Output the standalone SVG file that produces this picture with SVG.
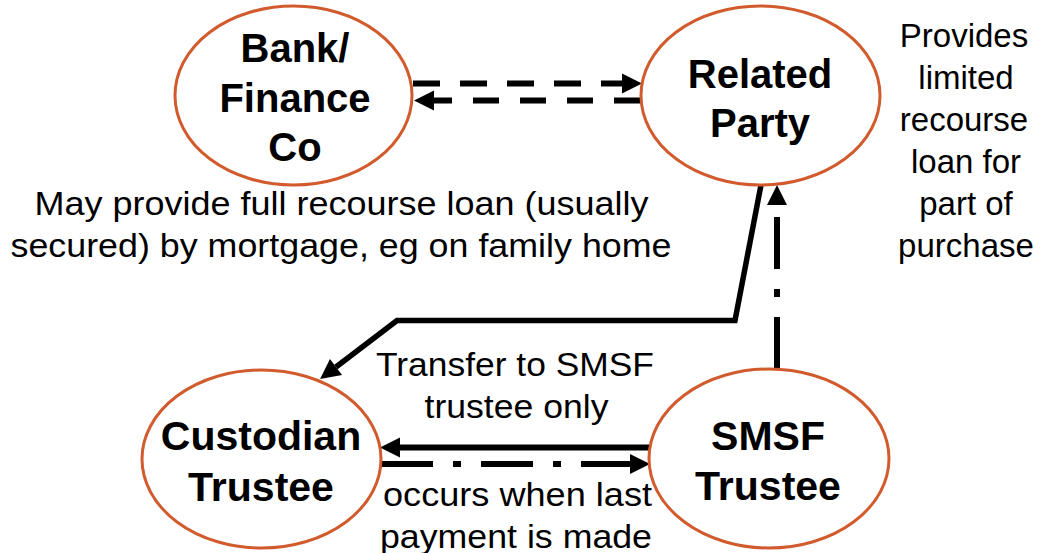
<svg xmlns="http://www.w3.org/2000/svg" width="1046" height="553" viewBox="0 0 1046 553">
<style>
  .node ellipse { fill: #ffffff; stroke: #D25B2E; stroke-width: 3; }
  .title { font-family: "Liberation Sans", Arial, sans-serif; font-weight: bold; fill: #000; text-anchor: middle; }
  .t40 { font-size: 40px; }
  .t41 { font-size: 41px; }
  .lbl { font-family: "Liberation Sans", Arial, sans-serif; font-size: 33px; fill: #000; }
  .mid { text-anchor: middle; }
  .conn { fill: none; stroke: #000; stroke-width: 6; }
  .dash { stroke-dasharray: 27 20; }
  .dashdot { stroke-dasharray: 52 20 8 20; }
</style>
<defs>
  <marker id="arrow" markerUnits="userSpaceOnUse" markerWidth="21" markerHeight="20" refX="0" refY="10" orient="auto" overflow="visible">
    <path d="M0,0 L20,10 L0,20 Z" fill="#000"/>
  </marker>
</defs>
<rect width="1046" height="553" fill="#ffffff"/>

<g id="connectors">
  <path class="conn dash" d="M413,83.5 L622,83.5" marker-end="url(#arrow)"/>
  <path class="conn" style="stroke-dasharray:26 21" d="M640,100.5 L434,100.5" marker-end="url(#arrow)"/>
  <path class="conn" style="stroke-width:5.5" d="M761,185 L735,320.5 L397,320.5 L336,367" marker-end="url(#arrow)"/>
  <path class="conn dashdot" d="M777,369 L777,205" marker-end="url(#arrow)"/>
  <path class="conn" d="M649,447.5 L400,447.5" marker-end="url(#arrow)"/>
  <path class="conn dashdot" d="M381,464 L630,464" marker-end="url(#arrow)"/>
</g>

<g id="bank" class="node">
  <ellipse cx="293.5" cy="95.5" rx="118.5" ry="89.5"/>
  <text class="title t40" x="295" y="62">Bank/</text>
  <text class="title t40" x="295" y="111.5">Finance</text>
  <text class="title t40" x="295" y="160.5">Co</text>
</g>
<g id="related-party" class="node">
  <ellipse cx="760.5" cy="95.5" rx="119.5" ry="89.5"/>
  <text class="title t40" x="760" y="88">Related</text>
  <text class="title t40" x="760" y="137">Party</text>
</g>
<g id="custodian-trustee" class="node">
  <ellipse cx="261.5" cy="459" rx="119.5" ry="89"/>
  <text class="title t41" x="261" y="450">Custodian</text>
  <text class="title t41" x="261" y="501">Trustee</text>
</g>
<g id="smsf-trustee" class="node">
  <ellipse cx="769" cy="458.5" rx="120" ry="89.5"/>
  <text class="title t41" x="768" y="450">SMSF</text>
  <text class="title t41" x="768" y="500">Trustee</text>
</g>

<g id="labels">
  <text class="lbl" x="34.5" y="215" textLength="614" lengthAdjust="spacingAndGlyphs">May provide full recourse loan (usually</text>
  <text class="lbl" x="10.5" y="257" textLength="661" lengthAdjust="spacingAndGlyphs">secured) by mortgage, eg on family home</text>
  <text class="lbl mid" x="964" y="47">Provides</text>
  <text class="lbl mid" x="966" y="89">limited</text>
  <text class="lbl mid" x="964" y="131">recourse</text>
  <text class="lbl mid" x="966" y="173">loan for</text>
  <text class="lbl mid" x="966" y="215">part of</text>
  <text class="lbl mid" x="966" y="257">purchase</text>
  <text class="lbl" x="376" y="376" textLength="278" lengthAdjust="spacingAndGlyphs">Transfer to SMSF</text>
  <text class="lbl" x="424.5" y="418" textLength="184" lengthAdjust="spacingAndGlyphs">trustee only</text>
  <text class="lbl" x="383" y="506" textLength="269" lengthAdjust="spacingAndGlyphs">occurs when last</text>
  <text class="lbl" x="380" y="548" textLength="272" lengthAdjust="spacingAndGlyphs">payment is made</text>
</g>
</svg>
